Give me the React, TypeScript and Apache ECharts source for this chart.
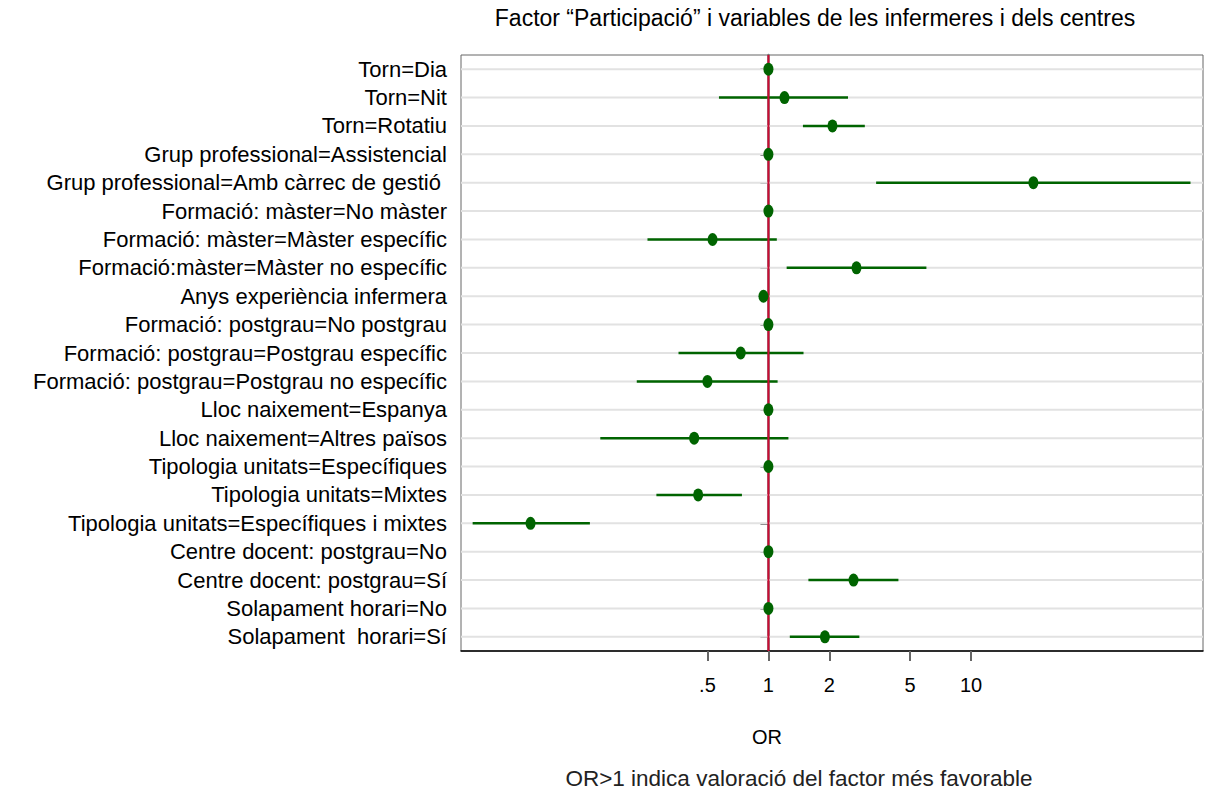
import React, { useEffect, useRef } from "react";
import * as echarts from "echarts";

// Row labels, top to bottom
const categories = [
  "Torn=Dia",
  "Torn=Nit",
  "Torn=Rotatiu",
  "Grup professional=Assistencial",
  "Grup professional=Amb càrrec de gestió ",
  "Formació: màster=No màster",
  "Formació: màster=Màster específic",
  "Formació:màster=Màster no específic",
  "Anys experiència infermera",
  "Formació: postgrau=No postgrau",
  "Formació: postgrau=Postgrau específic",
  "Formació: postgrau=Postgrau no específic",
  "Lloc naixement=Espanya",
  "Lloc naixement=Altres països",
  "Tipologia unitats=Específiques",
  "Tipologia unitats=Mixtes",
  "Tipologia unitats=Específiques i mixtes",
  "Centre docent: postgrau=No",
  "Centre docent: postgrau=Sí",
  "Solapament horari=No",
  "Solapament  horari=Sí",
];

// Odds ratios and 95% confidence limits (null = no interval drawn)
const orValues = [1, 1.2, 2.07, 1, 20.3, 1, 0.53, 2.72, 0.945, 1, 0.73, 0.5, 1, 0.43, 1, 0.45, 0.067, 1, 2.63, 1, 1.9];
const ciLow = [null, 0.57, 1.48, null, 3.4, null, 0.253, 1.23, null, null, 0.36, 0.224, null, 0.148, null, 0.28, 0.0347, null, 1.575, null, 1.275];
const ciHigh = [null, 2.47, 2.99, null, 121, null, 1.1, 6.02, null, null, 1.49, 1.11, null, 1.255, null, 0.74, 0.1315, null, 4.38, null, 2.81];

// Horizontal axis range and tick values (odds-ratio scale)
const orMin = 0.0304;
const orMax = 139.5;
const orTicks = [0.5, 1, 2, 5, 10];
const referenceOR = [1];

const FONT = "'Liberation Sans', Arial, Helvetica, sans-serif";
const GREEN = "#006400";
const RED = "#cc0a33";
// Unit ellipse; stretched to the symbol box below
const DOT = "path://M0,-1A1,1 0 1,1 0,1A1,1 0 1,1 0,-1Z";

const lg = (v: number) => Math.log10(v);

function formatOR(v: number): string {
  const raw = Math.pow(10, v);
  const r = Math.round(raw * 100) / 100;
  let s = String(r);
  if (s.startsWith("0.")) s = s.slice(1);
  return s;
}

export default function App() {
  const ref = useRef<HTMLDivElement>(null);

  useEffect(() => {
    document.body.style.margin = "0";
    document.body.style.overflow = "hidden";
    if (!ref.current) return;
    const chart = echarts.init(ref.current, null, { renderer: "svg" });

    const rowIdx = categories.map((_, i) => [0, i]);
    const ciData = categories
      .map((_, i) => (ciLow[i] != null && ciHigh[i] != null ? [lg(ciLow[i] as number), lg(ciHigh[i] as number), i] : null))
      .filter((d) => d !== null) as number[][];
    const pointData = orValues.map((v, i) => [lg(v), i]);
    const refData = referenceOR.map((v) => [lg(v), 0]);

    const option: any = {
      animation: false,
      backgroundColor: "#fff",
      textStyle: { fontFamily: FONT },
      tooltip: { show: false },
      grid: {
        left: 461,
        right: 7,
        top: 55,
        bottom: 143,
        show: true,
        borderColor: "#666",
        borderWidth: 1,
        backgroundColor: "transparent",
      },
      xAxis: {
        type: "value",
        min: lg(orMin),
        max: lg(orMax),
        splitLine: { show: false },
        axisPointer: { show: false },
        axisLine: { show: true, onZero: false, lineStyle: { color: "#000", width: 1.5 } },
        axisTick: {
          show: true,
          customValues: orTicks.map(lg),
          length: 10,
          lineStyle: { color: "#666", width: 2 },
        },
        axisLabel: {
          customValues: orTicks.map(lg),
          formatter: (v: number) => formatOR(v),
          fontSize: 20,
          fontFamily: FONT,
          color: "#000",
          margin: 24,
        },
      },
      yAxis: {
        type: "category",
        data: categories,
        inverse: true,
        axisPointer: { show: false },
        axisLine: { show: true, lineStyle: { color: "#777", width: 2.5 } },
        axisTick: { show: true, alignWithLabel: true, length: 8, lineStyle: { color: "#444", width: 1.5 } },
        axisLabel: { fontSize: 22, fontFamily: FONT, color: "#000", margin: 14, interval: 0 },
        splitLine: { show: false },
      },
      graphic: [
        {
          type: "text",
          silent: true,
          style: {
            text: "Factor “Participació” i variables de les infermeres i dels centres",
            x: 815,
            y: 18,
            align: "center",
            verticalAlign: "middle",
            fontSize: 23,
            fontFamily: FONT,
            fill: "#000",
          },
        },
        {
          type: "text",
          silent: true,
          style: {
            text: "OR",
            x: 767,
            y: 737,
            align: "center",
            verticalAlign: "middle",
            fontSize: 20,
            fontFamily: FONT,
            fill: "#000",
          },
        },
        {
          type: "text",
          silent: true,
          style: {
            text: "OR>1 indica valoració del factor més favorable",
            x: 799,
            y: 778,
            align: "center",
            verticalAlign: "middle",
            fontSize: 22.5,
            fontFamily: FONT,
            fill: "#222",
          },
        },
      ],
      series: [
        {
          // light horizontal guide line on every row
          type: "custom",
          name: "rows",
          z: 1,
          silent: true,
          data: rowIdx,
          encode: { x: 0, y: 1 },
          renderItem: (params: any, api: any) => {
            const cs = params.coordSys;
            const p = api.coord([api.value(0), api.value(1)]);
            return {
              type: "line",
              shape: { x1: cs.x, y1: p[1], x2: cs.x + cs.width, y2: p[1] },
              style: { stroke: "#e2e2e2", lineWidth: 2 },
            };
          },
        },
        {
          // confidence intervals
          type: "custom",
          name: "IC 95%",
          z: 2,
          silent: true,
          data: ciData,
          encode: { x: [0, 1], y: 2 },
          renderItem: (params: any, api: any) => {
            const a = api.coord([api.value(0), api.value(2)]);
            const b = api.coord([api.value(1), api.value(2)]);
            return {
              type: "line",
              shape: { x1: a[0], y1: a[1], x2: b[0], y2: b[1] },
              style: { stroke: GREEN, lineWidth: 2.5 },
            };
          },
        },
        {
          // reference line at OR = 1
          type: "custom",
          name: "ref",
          z: 3,
          silent: true,
          data: refData,
          encode: { x: 0, y: 1 },
          renderItem: (params: any, api: any) => {
            const cs = params.coordSys;
            const p = api.coord([api.value(0), api.value(1)]);
            return {
              type: "line",
              shape: { x1: p[0], y1: cs.y, x2: p[0], y2: cs.y + cs.height },
              style: { stroke: RED, lineWidth: 2 },
            };
          },
        },
        {
          type: "scatter",
          name: "OR",
          z: 4,
          silent: true,
          emphasis: { disabled: true },
          data: pointData,
          symbol: DOT,
          symbolKeepAspect: false,
          symbolSize: [10, 13],
          itemStyle: { color: GREEN, opacity: 1, borderWidth: 0 },
        },
      ],
    };

    chart.setOption(option);
    return () => chart.dispose();
  }, []);

  return <div ref={ref} style={{ width: 1210, height: 794, background: "#fff" }} />;
}
